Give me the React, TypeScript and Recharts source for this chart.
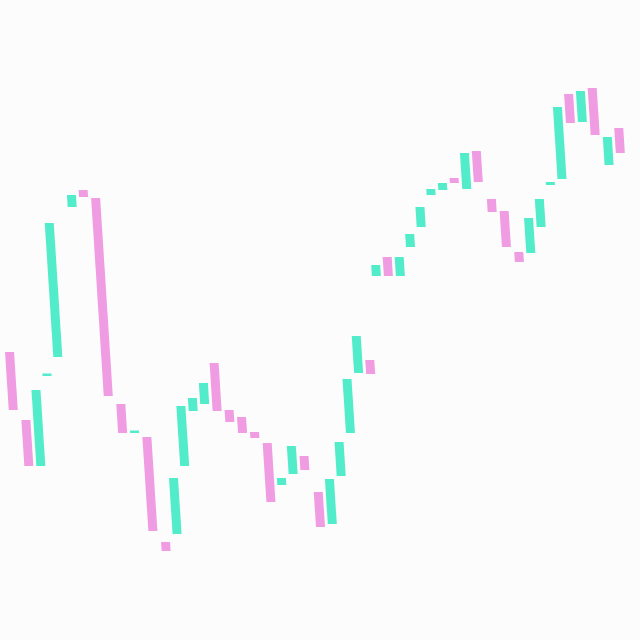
import { BarChart, Bar, XAxis, YAxis, Cell } from "recharts"

// session labels (no axis is drawn in the reference); slot 6 is an empty session
const days = Array.from({ length: 53 }, (_, i) => `D${i + 1}`)

const opens = [
  72, 55, 43.5, 66, 70.75, null, 108.25, 112.5, 110.5, 59, 51.75,
  50.75, 24.5, 26.5, 43.5, 57.25, 59, 69.25, 57.5, 55.75, 52,
  49.25, 38.75, 41.5, 46, 37, 29, 41, 51.75, 66.75, 70,
  91, 95.75, 91, 98.25, 103.25, 111.25, 112.5, 115.5, 112.75, 122.25,
  110.25, 107.25, 97, 96.75, 103.25, 113.75, 115.25, 136.5, 129.5, 138,
  118.75, 128,
]

const closes = [
  57.5, 43.5, 62.5, 66.6, 104.25, null, 111.25, 110.75, 61, 51.75, 52.35,
  27.25, 22.25, 40.5, 58.5, 60.5, 64.25, 57.25, 54.5, 51.75, 50.5,
  34.5, 40.5, 48.5, 42.5, 28.25, 40.25, 49.5, 65.25, 76, 66.5,
  93.75, 91, 95.75, 101.5, 108.25, 112.75, 114.25, 114.25, 121.75, 114.5,
  107, 98.25, 94.5, 105.5, 110.25, 114.5, 133.25, 129.25, 137.25, 126.25,
  125.75, 121.75,
]

const UP = "#52eccb"
const DOWN = "#ef9ce3"

const chartData = days.map((d, i) => {
  const o = opens[i]
  const c = closes[i]
  if (o == null || c == null) return { name: d, range: null, up: true }
  return { name: d, range: [Math.min(o, c), Math.max(o, c)], up: c >= o }
})

export default function App() {
  return (
    <div
      style={{
        position: "absolute",
        left: 0,
        top: 0,
        width: 640,
        height: 640,
        background: "#fcfcfc",
        overflow: "hidden",
      }}
    >
      {/* the reference photo is sheared a little: lower parts sit further right */}
      <div style={{ width: 640, height: 640, transform: "skewX(3.66deg)", transformOrigin: "320px 320px" }}>
        <BarChart
          width={640}
          height={640}
          data={chartData}
          margin={{ top: 0, right: 2.5, left: 2, bottom: 0 }}
        >
          <XAxis dataKey="name" hide />
          <YAxis hide domain={[0, 160]} />
          <Bar dataKey="range" barSize={9} isAnimationActive={false}>
            {chartData.map((d, i) => (
              <Cell key={i} fill={d.up ? UP : DOWN} />
            ))}
          </Bar>
        </BarChart>
      </div>
    </div>
  )
}
